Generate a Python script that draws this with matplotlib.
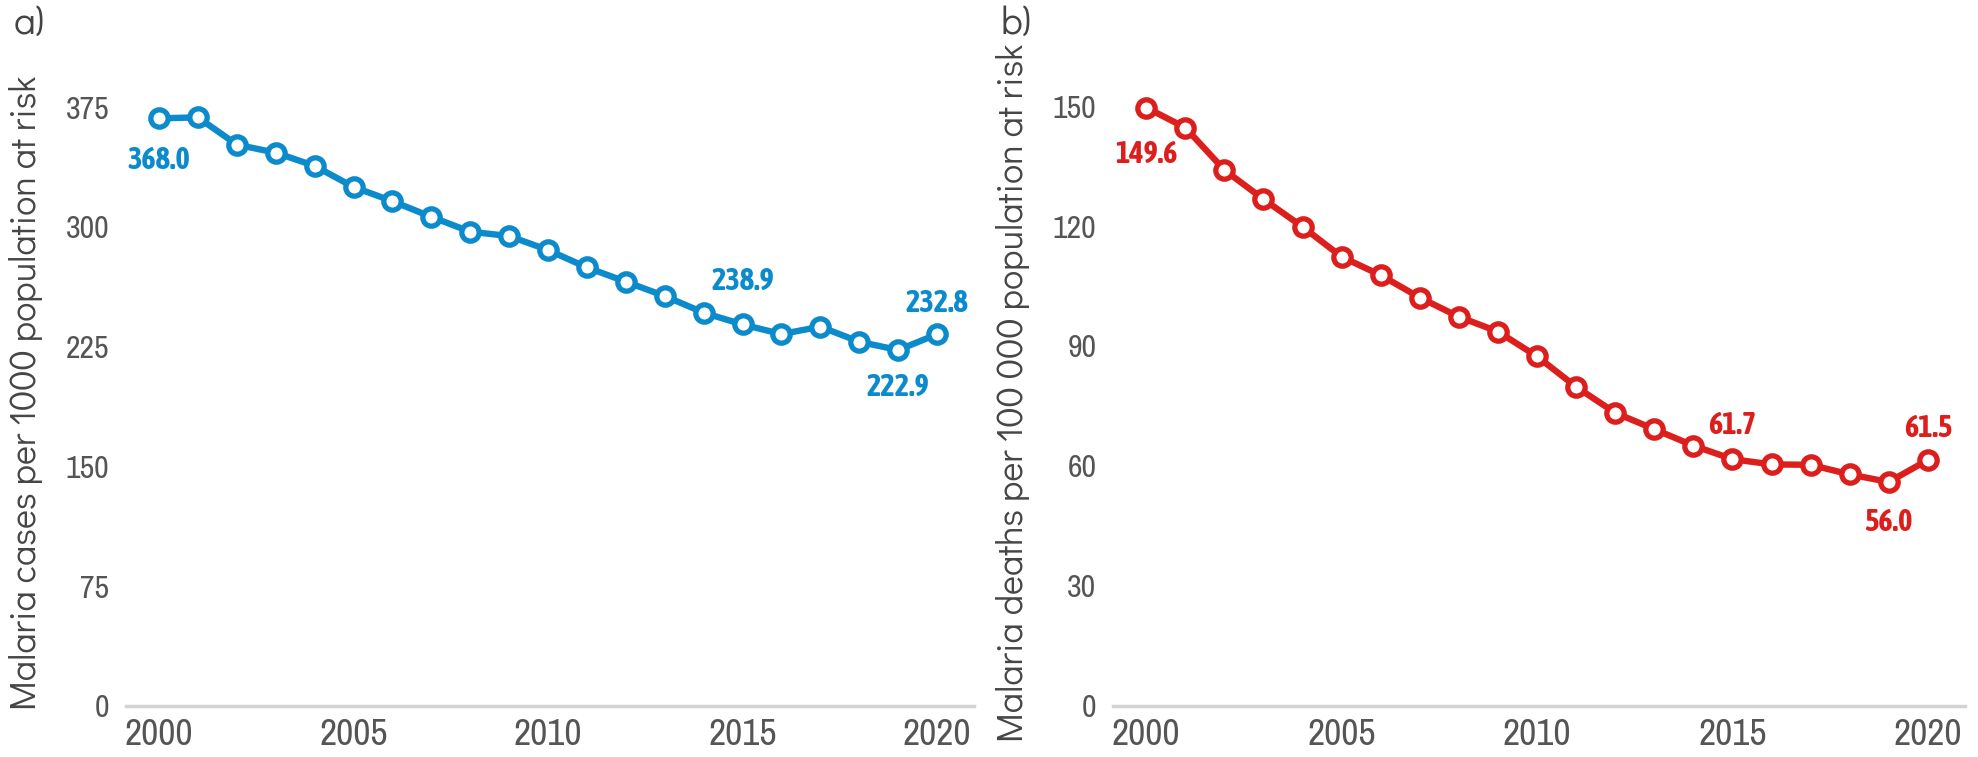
import matplotlib
matplotlib.use("Agg")
import matplotlib.pyplot as plt

# Datos: incidencia y mortalidad de malaria 2000-2020
years = list(range(2000, 2021))
cases = [368.0, 368.6, 351.5, 346.5, 338.2, 325.0, 316.1, 306.3, 297.0, 294.3, 285.5,
         274.6, 265.7, 256.7, 246.3, 238.9, 232.9, 237.5, 228.1, 222.9, 232.8]
deaths = [149.6, 144.6, 134.0, 126.7, 119.8, 112.3, 107.7, 102.1, 97.3, 93.6, 87.4,
          79.8, 73.3, 69.2, 65.1, 61.7, 60.4, 60.3, 57.9, 56.0, 61.5]
cases_ticks = [0, 75, 150, 225, 300, 375]
deaths_ticks = [0, 30, 60, 90, 120, 150]
year_ticks = [2000, 2005, 2010, 2015, 2020]

# Etiquetas: (indice, desplazamiento vertical en puntos)
cases_labels = [(0, -30), (15, 31), (19, -27), (20, 22)]
deaths_labels = [(0, -34), (15, 24), (19, -29), (20, 23)]

# Fuentes: estrecha para numeros, gotica para titulos de ejes
NARROW = ['Archivo Narrow', 'Asap Condensed', 'Liberation Sans Narrow', 'DejaVu Sans']
BOLD_NARROW = ['Asap Condensed', 'Roboto Condensed', 'Liberation Sans Narrow', 'DejaVu Sans']
GOTHIC = ['Didact Gothic', 'Questrial', 'Lato', 'DejaVu Sans']
plt.rcParams['font.family'] = NARROW

BLUE = "#0b8bcb"
RED = "#dc1f1c"
GRAY_TXT = "#555555"

fig = plt.figure(figsize=(19.78, 7.57), dpi=100)
ax1 = fig.add_axes([0.0637, 0.0674, 0.4287, 0.8269])
ax2 = fig.add_axes([0.5627, 0.0674, 0.4307, 0.8269])


def dibujar_panel(ax, valores, color, yticks, ymax, ylabel, etiquetas, letra):
    ax.plot(years, valores, color=color, lw=4.6, marker="o", markersize=12.5,
            markerfacecolor="white", markeredgecolor=color, markeredgewidth=3.8,
            solid_capstyle="round", zorder=3)
    for i, dy in etiquetas:
        ax.annotate("%.1f" % valores[i], (years[i], valores[i]), xytext=(0, dy),
                    textcoords="offset points", ha="center", va="center",
                    color=color, fontsize=22, fontweight="bold", family=BOLD_NARROW)
    ax.set_xlim(1999.15, 2020.95)
    ax.set_ylim(0, ymax)
    ax.set_xticks(year_ticks)
    ax.set_yticks(yticks)
    ax.tick_params(axis="x", length=0, pad=9, labelsize=27, labelcolor=GRAY_TXT)
    ax.tick_params(axis="y", length=0, pad=12, labelsize=23, labelcolor=GRAY_TXT)
    for s in ["top", "right", "left"]:
        ax.spines[s].set_visible(False)
    ax.spines["bottom"].set_color("#d3d3d3")
    ax.spines["bottom"].set_linewidth(2.5)
    ax.set_ylabel(ylabel, fontsize=26, color="#454545", family=GOTHIC)
    ax.yaxis.set_label_coords(-0.098, 0.5)
    ax.text(-0.132, 1.09, letra, transform=ax.transAxes, fontsize=28, color="#444444",
            family=GOTHIC, ha="left", va="center")


dibujar_panel(ax1, cases, BLUE, cases_ticks, 392, "Malaria cases per 1000 population at risk",
              cases_labels, "a)")
dibujar_panel(ax2, deaths, RED, deaths_ticks, 156.5, "Malaria deaths per 100 000 population at risk",
              deaths_labels, "b)")

fig.savefig("out.png", dpi=100)
